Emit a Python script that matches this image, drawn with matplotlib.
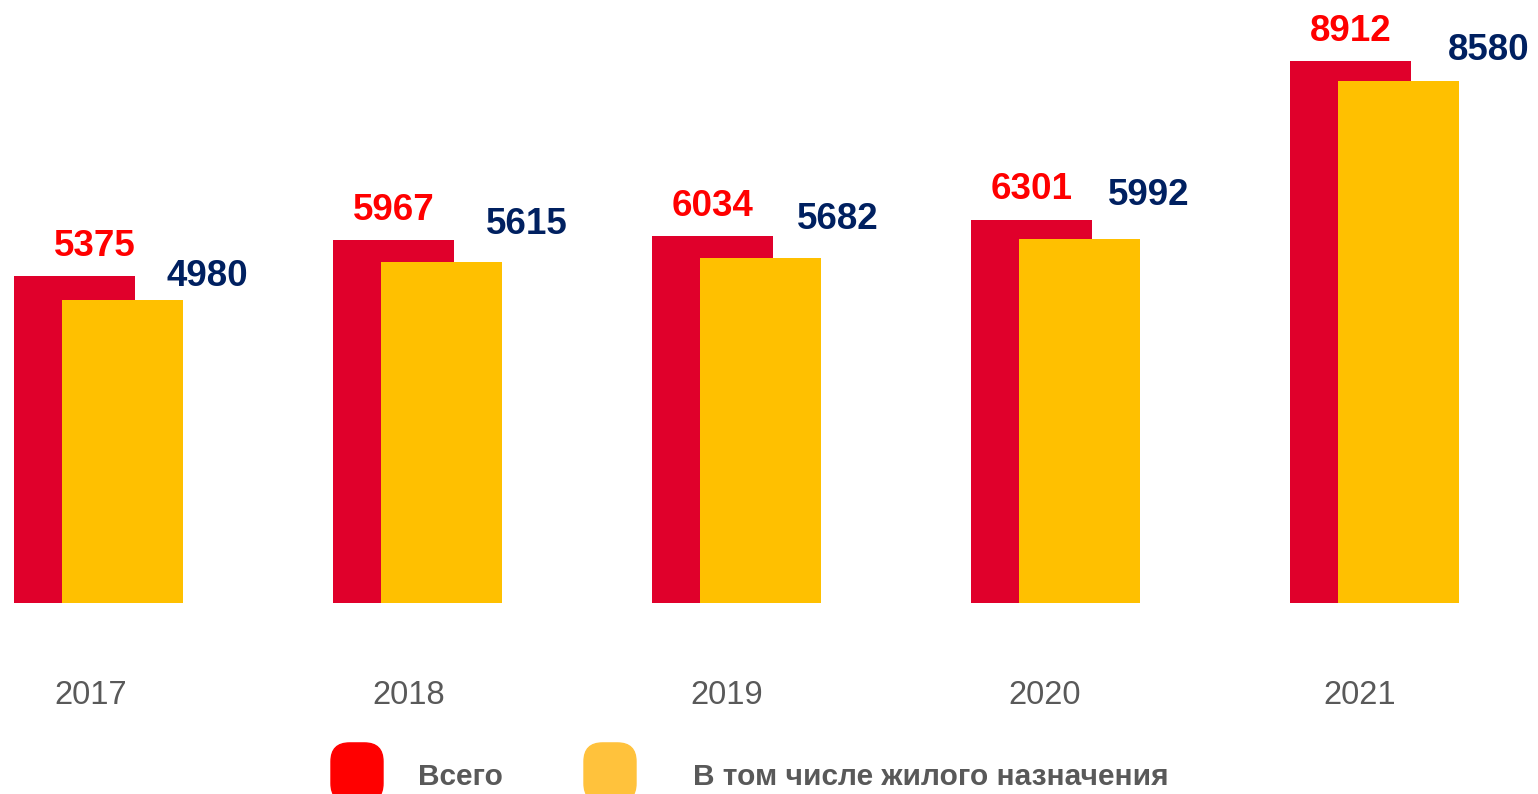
import matplotlib
matplotlib.use('Agg')
import matplotlib.pyplot as plt
from matplotlib.patches import FancyBboxPatch

years = ['2017', '2018', '2019', '2020', '2021']
total = [5375, 5967, 6034, 6301, 8912]
residential = [4980, 5615, 5682, 5992, 8580]
legend_labels = ['Всего', 'В том числе жилого назначения']

plt.rcParams['font.family'] = ['Liberation Sans', 'DejaVu Sans']

W, H = 1538, 794
fig = plt.figure(figsize=(W / 100, H / 100), dpi=100)
ax = fig.add_axes([0, 0, 1, 1])
ax.axis('off')

# pixel geometry of the reference, converted to data units
gap = 319.0          # px between groups
bw = 121.0 / gap     # bar width
shift = 48.0 / gap   # yellow bar shift
ppu = 0.0608         # px per unit value
base = 603.0         # baseline px from top
x0 = 74.5            # first red bar centre px
ax.set_xlim(-x0 / gap, (W - x0) / gap)
ax.set_ylim(-(H - base) / ppu, base / ppu)

xs = list(range(len(years)))
ax.bar(xs, total, width=bw, color='#E0002B', zorder=2)
ax.bar([x + shift for x in xs], residential, width=bw, color='#FFC000', zorder=3)

# label offsets (px)
red_dx = [20, 0, 0, 0, 0]
blue_dx = [85, 85, 77, 69, 90]
red_dy = [30, 30, 30, 30, 30]
blue_dy = [24, 37, 38, 43, 31]
year_dx = [16, 15, 14.5, 13.5, 9.5]
for i, x in enumerate(xs):
    ax.text(x + red_dx[i] / gap, total[i] + red_dy[i] / ppu, str(total[i]),
            ha='center', va='center', fontsize=26.5, fontweight='bold', color='#FF0000')
    ax.text(x + shift + blue_dx[i] / gap, residential[i] + blue_dy[i] / ppu, str(residential[i]),
            ha='center', va='center', fontsize=26.5, fontweight='bold', color='#002060')
    ax.text(x + year_dx[i] / gap, -(695 - base) / ppu, years[i],
            ha='center', va='center', fontsize=23.5, color='#595959')

# legend
for px, c in [(331, '#FF0000'), (584, '#FFC23C')]:
    p = FancyBboxPatch((px / W, -0.01), 52 / W, 59 / H,
                       boxstyle='round,pad=0,rounding_size=0.012',
                       transform=fig.transFigure, color=c, mutation_aspect=W / H)
    fig.patches.append(p)
fig.text(418 / W, 1 - 777 / H, legend_labels[0], ha='left', va='center',
         fontsize=21.5, fontweight='bold', color='#595959')
fig.text(693 / W, 1 - 777 / H, legend_labels[1], ha='left', va='center',
         fontsize=21.5, fontweight='bold', color='#595959')

fig.savefig('out.png', dpi=100)
